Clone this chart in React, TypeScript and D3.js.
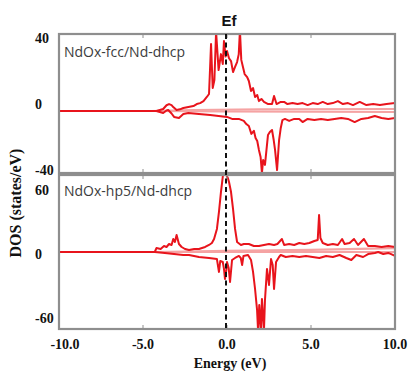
import React from 'react';
import * as d3 from 'd3';

// energy axis
const xTicks = [-10, -5, 0, 5, 10];
const xTickLabels = ['-10.0', '-5.0', '0.0', '5.0', '10.0'];

// top panel: NdOx-fcc/Nd-dhcp  [energy, DOS]
const fccUp: [number, number][] = [
  [-10, 0], [-4.5, 0], [-4.2, 0], [-3.8, 1.2], [-3.6, 3.5], [-3.45, 4.2], [-3.3, 3.6], [-3.2, 2.4], [-3.0, 0.6],
  [-2.8, 1.0], [-2.6, 1.8], [-2.3, 2.4], [-2.0, 3.0], [-1.8, 4.2], [-1.6, 4.8], [-1.4, 6], [-1.2, 8.5],
  [-1.07, 10.3], [-0.95, 40.6], [-0.85, 14], [-0.75, 18.8], [-0.65, 48], [-0.5, 24.8], [-0.36, 34.5],
  [-0.25, 28.5], [-0.18, 42.4], [-0.08, 33], [0.0, 36.4], [0.12, 32], [0.24, 30.3], [0.36, 23.6], [0.48, 26.7],
  [0.6, 29.7], [0.7, 34.5], [0.77, 49], [0.85, 31], [0.95, 26.7], [1.05, 22.4], [1.2, 20.6], [1.3, 18.2],
  [1.43, 12.1], [1.55, 13.9], [1.67, 8.5], [1.8, 9.7], [1.9, 6], [2.05, 7.3], [2.2, 5.5], [2.45, 4.2],
  [2.68, 4.2], [2.8, 9.1], [2.95, 4.2], [3.2, 5.5], [3.4, 5.5], [3.6, 4.2], [3.9, 4.8], [4.2, 4.2], [4.5, 4.8],
  [4.8, 3.6], [5.1, 4.8], [5.4, 4.2], [5.7, 5.5], [6.0, 4.2], [6.3, 4.8], [6.6, 6], [6.9, 4.2], [7.2, 4.8],
  [7.5, 3.6], [7.9, 5.5], [8.3, 3.6], [8.7, 4.2], [9.1, 3.6], [9.5, 4.2], [10, 4.8],
];
const fccDown: [number, number][] = [
  [-10, 0], [-4.5, 0], [-4.2, 0], [-3.8, -1.2], [-3.6, 0.3], [-3.5, 0.6], [-3.3, -1.5], [-3.15, -3.6], [-2.86, -4.2],
  [-2.6, -1.8], [-2.3, -1.2], [-1.67, -1.8], [-1.0, -2.4], [-0.5, -3], [0.0, -3.6], [0.3, -4.8], [0.7, -4.8],
  [1.0, -6], [1.15, -7.9], [1.3, -9.1], [1.45, -13.9], [1.6, -12], [1.7, -16.4], [1.8, -18.2], [1.9, -23.6],
  [2.0, -27.9], [2.08, -37.6], [2.15, -29.7], [2.26, -32.7], [2.35, -23.6], [2.44, -14.5], [2.55, -12.7],
  [2.68, -11.5], [2.78, -17.6], [2.86, -23.6], [2.98, -35.8], [3.1, -17.6], [3.2, -10.3], [3.3, -5.5],
  [3.45, -4.8], [3.7, -6], [4.0, -4.8], [4.3, -4.8], [4.5, -6.7], [4.8, -4.8], [5.2, -5.5], [5.6, -4.8],
  [6.0, -5.5], [6.4, -4.8], [6.8, -4.2], [7.2, -4.8], [7.6, -6.7], [8.0, -4.8], [8.4, -4.2], [8.8, -3.0],
  [9.2, -4.2], [9.6, -4.8], [10, -4.2],
];
const fccLight: [number, number][] = [[-10, 0], [-4.5, 0], [-2, 0.6], [2, 1.0], [10, 1.2]];
const fccLight2: [number, number][] = [[-10, 0], [-4.5, 0], [0, -0.3], [10, -0.6]];

// bottom panel: NdOx-hp5/Nd-dhcp
const hp5Up: [number, number][] = [
  [-10, 0], [-4.3, 0], [-4.2, 3.7], [-3.95, 2.8], [-3.75, 5.6], [-3.6, 4.7], [-3.45, 7.5], [-3.3, 6.6],
  [-3.2, 12.2], [-3.1, 9.4], [-3.0, 15.9], [-2.86, 7.5], [-2.7, 4.7], [-2.5, 2.8], [-2.26, 1.9], [-1.95, 2.8],
  [-1.67, 2.8], [-1.3, 4.7], [-1.07, 6.6], [-0.9, 8.4], [-0.77, 12.2], [-0.6, 21.6], [-0.48, 37.5],
  [-0.36, 56.2], [-0.24, 72], [-0.12, 74], [0.0, 71], [0.06, 69], [0.12, 65.6], [0.24, 56.2], [0.36, 40.3],
  [0.48, 21.6], [0.6, 9.4], [0.83, 6.6], [1.0, 7.5], [1.3, 7.5], [1.6, 5.6], [1.9, 5.6], [2.2, 6.6], [2.5, 7.5],
  [2.8, 6.6], [3.0, 7.5], [3.27, 12.2], [3.4, 6.6], [3.7, 7.5], [4.0, 6.6], [4.3, 8.4], [4.6, 7.5], [4.9, 8.4],
  [5.2, 10.3], [5.4, 11.2], [5.48, 34.7], [5.56, 13.1], [5.7, 8.4], [6.0, 6.6], [6.3, 7.5], [6.6, 6.6],
  [6.85, 12.2], [7.0, 7.5], [7.3, 8.4], [7.56, 12.2], [7.8, 6.6], [8.15, 12.2], [8.4, 5.6], [8.8, 5.6],
  [9.2, 4.7], [9.6, 5.6], [10, 4.7],
];
const hp5Down: [number, number][] = [
  [-10, 0], [-4.3, 0], [-3.7, -0.9], [-3.15, -1.9], [-2.6, -2.8], [-2.26, -2.8], [-1.67, -4.7], [-1.07, -5.6],
  [-0.6, -6.6], [-0.48, -18.7], [-0.4, -8.4], [-0.25, -9.4], [-0.18, -15.9], [-0.12, -25.3], [-0.04, -16.9],
  [0.0, -9.4], [0.1, -15], [0.18, -28.1], [0.3, -7.5], [0.48, -5.6], [0.71, -3.7], [0.82, -5.6], [0.9, -12.2],
  [0.98, -3.7], [1.25, -2.8], [1.43, -7.5], [1.55, -18.7], [1.67, -34.7], [1.79, -54.4], [1.85, -74],
  [1.92, -49.7], [2.02, -74], [2.08, -44], [2.15, -61.9], [2.2, -74], [2.26, -45], [2.38, -15.9], [2.5, -30.9],
  [2.62, -6.6], [2.72, -12.2], [2.8, -34.7], [2.92, -9.4], [3.1, -4.7], [3.2, -2.8], [3.5, -4.7], [3.9, -3.7],
  [4.3, -4.7], [4.7, -3.7], [5.1, -4.7], [5.5, -5.6], [5.9, -3.7], [6.3, -4.7], [6.7, -2.8], [7.1, -5.6],
  [7.4, -7.5], [7.7, -2.8], [8.1, -4.7], [8.4, -1.9], [8.8, -0.9], [9.0, 0], [9.3, -1.9], [9.6, -0.9], [10, -3.7],
];
const hp5Light: [number, number][] = [[-10, 0], [-4.3, 0], [0, 1.0], [5, 2.0], [10, 3.7]];
const hp5Light2: [number, number][] = [[-10, 0], [-4.3, 0], [10, 0]];

const topTicks = [40, 0, -40];
const bottomTicks = [60, 0, -60];

const RED = '#e8141c';
const LIGHT = '#f5a3a3';
const FRAME = '#8e8e8e';
const SERIF = '"Liberation Serif", "Times New Roman", serif';
const SANS = '"Liberation Sans", Arial, sans-serif';
const LABEL_SANS = '"Open Sans", "Noto Sans", sans-serif';

const x = d3.scaleLinear().domain([-10, 10]).range([59, 395]);

type PanelProps = {
  id: string;
  top: number;
  bottom: number;
  domain: [number, number];
  ticks: number[];
  labelDy: number;
  title: string;
  titleY: number;
  up: [number, number][];
  down: [number, number][];
  light: [number, number][];
  light2: [number, number][];
};

const Panel = (p: PanelProps) => {
  const y = d3.scaleLinear().domain(p.domain).range([p.bottom, p.top]);
  const line = d3.line<[number, number]>().x(d => x(d[0])).y(d => y(d[1]));
  const [x0, x1] = x.range();
  return (
    <g>
      <defs>
        <clipPath id={p.id}>
          <rect x={x0} y={p.top} width={x1 - x0} height={p.bottom - p.top} />
        </clipPath>
      </defs>
      <g clipPath={`url(#${p.id})`} fill="none" strokeLinejoin="round">
        <path d={line(p.light2) || ''} stroke={LIGHT} strokeWidth={2.2} />
        <path d={line(p.light) || ''} stroke={LIGHT} strokeWidth={2.2} />
        <path d={line(p.up) || ''} stroke={RED} strokeWidth={2} />
        <path d={line(p.down) || ''} stroke={RED} strokeWidth={2} />
      </g>
      <rect x={x0} y={p.top} width={x1 - x0} height={p.bottom - p.top} fill="none" stroke={FRAME} strokeWidth={2.2} />
      {[-5, 0, 5].map(t => (
        <g key={t} stroke={FRAME} strokeWidth={1}>
          <line x1={x(t)} x2={x(t)} y1={p.top} y2={p.top + 4} />
          <line x1={x(t)} x2={x(t)} y1={p.bottom} y2={p.bottom - 4} />
        </g>
      ))}
      {p.ticks.map(t => (
        <text key={t} x={35} y={y(t) + p.labelDy} dy="0.35em" fontFamily={SERIF} fontWeight="bold" fontSize={14} fill="#111">
          {t}
        </text>
      ))}
      <text x={64} y={p.titleY} fontFamily={LABEL_SANS} fontSize={14} fill="#3c3c3c">{p.title}</text>
    </g>
  );
};

export default function App() {
  return (
    <svg width={412} height={372} style={{ position: 'absolute', left: 0, top: 0, background: '#fff' }}>
      <Panel id="cp1" top={34} bottom={173} domain={[-37.6, 46.7]} ticks={topTicks} labelDy={-7}
        title="NdOx-fcc/Nd-dhcp" titleY={57} up={fccUp} down={fccDown} light={fccLight} light2={fccLight2} />
      <Panel id="cp2" top={175} bottom={329} domain={[-72.2, 72.2]} ticks={bottomTicks} labelDy={2}
        title="NdOx-hp5/Nd-dhcp" titleY={196} up={hp5Up} down={hp5Down} light={hp5Light} light2={hp5Light2} />
      <line x1={x(0) - 1} x2={x(0) - 1} y1={34} y2={329} stroke="#111" strokeWidth={2} strokeDasharray="5,3.5" />
      <text x={x(0) + 2} y={21} dy="0.35em" textAnchor="middle" fontFamily={SANS} fontWeight="bold" fontSize={15} fill="#111">Ef</text>
      {xTicks.map((t, i) => (
        <text key={t} x={x(t) + (i === 0 ? 6 : 0)} y={344} dy="0.35em" textAnchor="middle" fontFamily={SERIF} fontWeight="bold" fontSize={14} fill="#111">
          {xTickLabels[i]}
        </text>
      ))}
      <text x={230} y={363} dy="0.35em" textAnchor="middle" fontFamily={SERIF} fontWeight="bold" fontSize={14} fill="#111">Energy (eV)</text>
      <text transform="translate(15,203) rotate(-90)" dy="0.35em" textAnchor="middle" fontFamily={SERIF} fontWeight="bold" fontSize={16} fill="#111">DOS (states/eV)</text>
    </svg>
  );
}
